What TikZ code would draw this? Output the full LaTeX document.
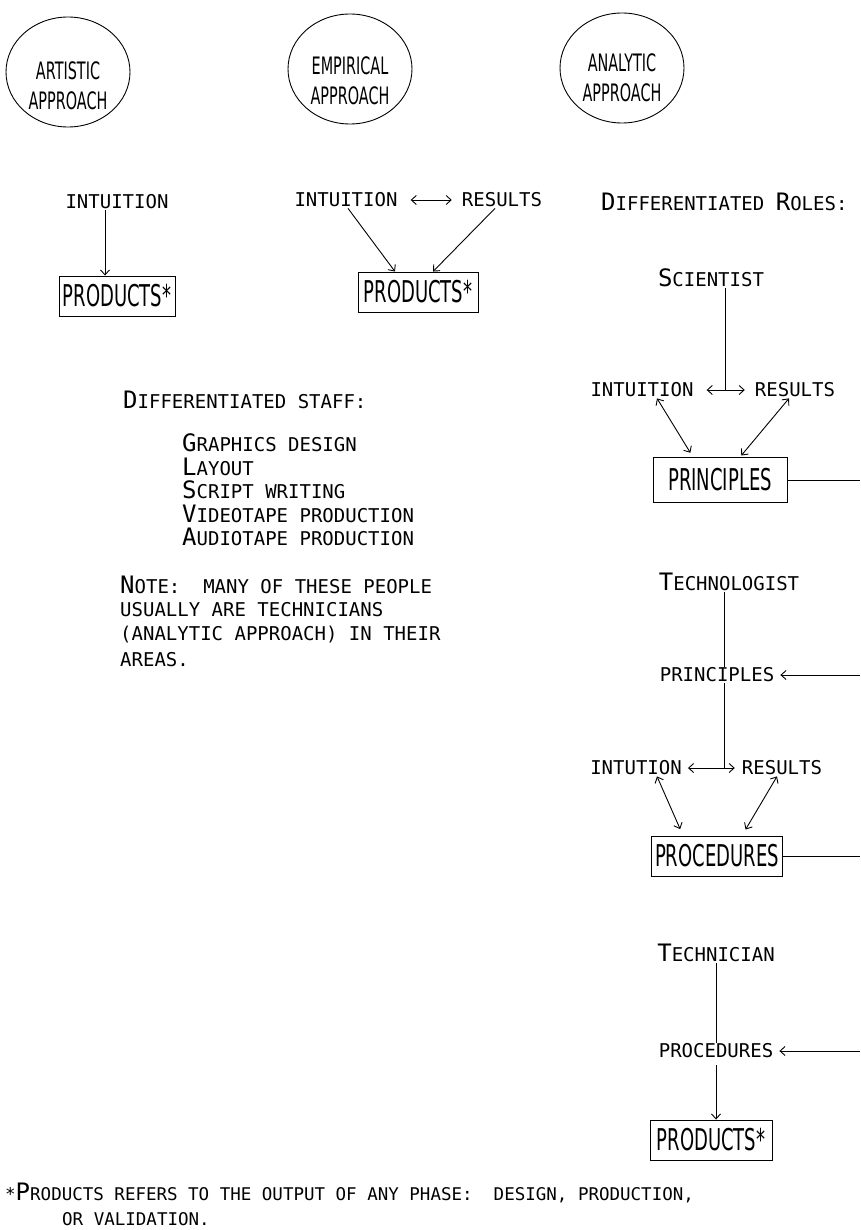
\documentclass[tikz,border=0pt]{standalone}
\usepackage{fontspec}
\usetikzlibrary{shapes.geometric,arrows.meta,calc}
\newfontfamily\labfont{DejaVu Sans Mono}
\newfontfamily\condfont[FakeStretch=0.6]{DejaVu Sans}
\newcommand{\BL}[1]{{\fontsize{24}{24}\selectfont #1}}
\begin{document}
\begin{tikzpicture}[x=1pt,y=-1pt,
  lab/.style={font=\labfont\fontsize{19}{23.5}\selectfont, inner sep=1pt},
  lst/.style={lab, anchor=west, inner sep=0pt},
  boxed/.style={draw, line width=0.9pt, font=\condfont\fontsize{30}{30}\selectfont, inner sep=2pt, minimum height=40pt},
  oval/.style={ellipse, draw, line width=0.9pt, minimum width=124pt, minimum height=110pt, inner sep=0pt},
  ovaltext/.style={align=center, inner sep=0pt, font=\condfont\fontsize{24}{30}\selectfont},
  conn/.style={line width=0.9pt},
  arr/.style={conn, -{Straight Barb[length=5pt,width=9pt]}},
  darr/.style={conn, {Straight Barb[length=5pt,width=9pt]}-{Straight Barb[length=5pt,width=9pt]}}]
\useasboundingbox (0,0) rectangle (860,1230);
\coordinate (edge) at (860,0);

% approaches
\node[oval] (e1) at (68,72) {};
\node[ovaltext] (e1t) at (68,86) {ARTISTIC\\APPROACH};
\node[oval] (e2) at (350,69) {};
\node[ovaltext] (e2t) at (350,81) {EMPIRICAL\\APPROACH};
\node[oval] (e3) at (622,68) {};
\node[ovaltext] (e3t) at (622,78) {ANALYTIC\\APPROACH};

% artistic
\node[lab] (i1) at (117,202) {INTUITION};
\node[boxed, minimum width=116pt] (p1) at (117,296) {PRODUCTS*};
\draw[arr] ([xshift=-12pt]i1.south) -- ([xshift=-12pt]p1.north);

% empirical
\node[lab] (i2) at (346,200) {INTUITION};
\node[lab] (r2) at (502,200) {RESULTS};
\node[boxed, minimum width=120pt] (p2) at (418,292) {PRODUCTS*};
\draw[darr] ([xshift=12pt]i2.east) -- ([xshift=-9pt]r2.west);
\draw[arr] ([xshift=2pt]i2.south) -- ([xshift=-23pt]p2.north);
\draw[arr] ([xshift=-7pt]r2.south) -- ([xshift=15pt]p2.north);

% staff
\node[lab, anchor=west] (ds) at (122,400) {\BL{D}IFFERENTIATED STAFF:};
\node[lst] (s1) at (182,443) {\BL{G}RAPHICS DESIGN};
\node[lst] (s2) at (182,466.5) {\BL{L}AYOUT};
\node[lst] (s3) at (182,490) {\BL{S}CRIPT WRITING};
\node[lst] (s4) at (182,513.5) {\BL{V}IDEOTAPE PRODUCTION};
\node[lst] (s5) at (182,537) {\BL{A}UDIOTAPE PRODUCTION};
\node[lst] (n1) at (120,585) {\BL{N}OTE:~~MANY OF THESE PEOPLE};
\node[lst] (n2) at (120,610) {USUALLY ARE TECHNICIANS};
\node[lst] (n3) at (120,635) {(ANALYTIC APPROACH) IN THEIR};
\node[lst] (n4) at (120,660) {AREAS.};

% analytic
\node[lab, anchor=west] (dr) at (600,202) {\BL{D}IFFERENTIATED \BL{R}OLES:};
\node[lab] (sci) at (711,278) {\BL{S}CIENTIST};
\node[lab] (ir) at (642,390) {INTUITION};
\node[lab] (rr) at (795,390) {RESULTS};
\coordinate (j1) at (725,390);
\draw[conn] (j1 |- sci.south) -- (j1);
\draw[darr] ([xshift=12pt]ir.east) -- ([xshift=-9pt]rr.west);
\node[boxed, minimum width=134pt, minimum height=45pt] (pb) at (720,480) {PRINCIPLES};
\draw[darr, shorten >=5pt] ([xshift=15pt]ir.south) -- ([xshift=-27pt]pb.north);
\draw[darr, shorten >=2pt] ([xshift=-6pt]rr.south) -- ([xshift=20pt]pb.north);
\draw[conn] (pb.east) -- (pb.east -| edge);

\node[lab] (tech) at (729,582) {\BL{T}ECHNOLOGIST};
\node[lab] (pl) at (717,675) {PRINCIPLES};
\coordinate (j2) at (724,768);
\draw[conn] (j2 |- tech.south) -- (j2 |- pl.north);
\draw[conn] (j2 |- pl.south) -- (j2);
\draw[arr] (pl.east -| edge) -- ([xshift=5pt]pl.east);
\node[lab] (it) at (636,768) {INTUTION};
\node[lab] (rt) at (782,768) {RESULTS};
\draw[darr] ([xshift=5pt]it.east) -- ([xshift=-6pt]rt.west);
\node[boxed, minimum width=131pt] (pc) at (717,856) {PROCEDURES};
\draw[darr, shorten >=7pt] ([xshift=21pt]it.south) -- ([xshift=-34pt]pc.north);
\draw[darr, shorten >=7pt] ([xshift=-5pt]rt.south) -- ([xshift=25pt]pc.north);
\draw[conn] (pc.east) -- (pc.east -| edge);

\node[lab] (tn) at (716,953) {\BL{T}ECHNICIAN};
\node[lab] (pl3) at (716,1051) {PROCEDURES};
\draw[conn] (tn.south) -- (pl3.north);
\draw[arr] (pl3.east -| edge) -- ([xshift=5pt]pl3.east);
\node[boxed, minimum width=122pt] (pr3) at (711,1140) {PRODUCTS*};
\draw[arr] ([yshift=-6pt]pl3.south) -- (pl3.south |- pr3.north);

% footnote
\node[lst, font=\labfont\fontsize{17.5}{21}\selectfont] (fn1) at (5,1193) {*\BL{P}RODUCTS REFERS TO THE OUTPUT OF ANY PHASE:~~DESIGN, PRODUCTION,};
\node[lst, font=\labfont\fontsize{17.5}{21}\selectfont] (fn2) at (62,1219) {OR VALIDATION.};
\end{tikzpicture}
\end{document}
